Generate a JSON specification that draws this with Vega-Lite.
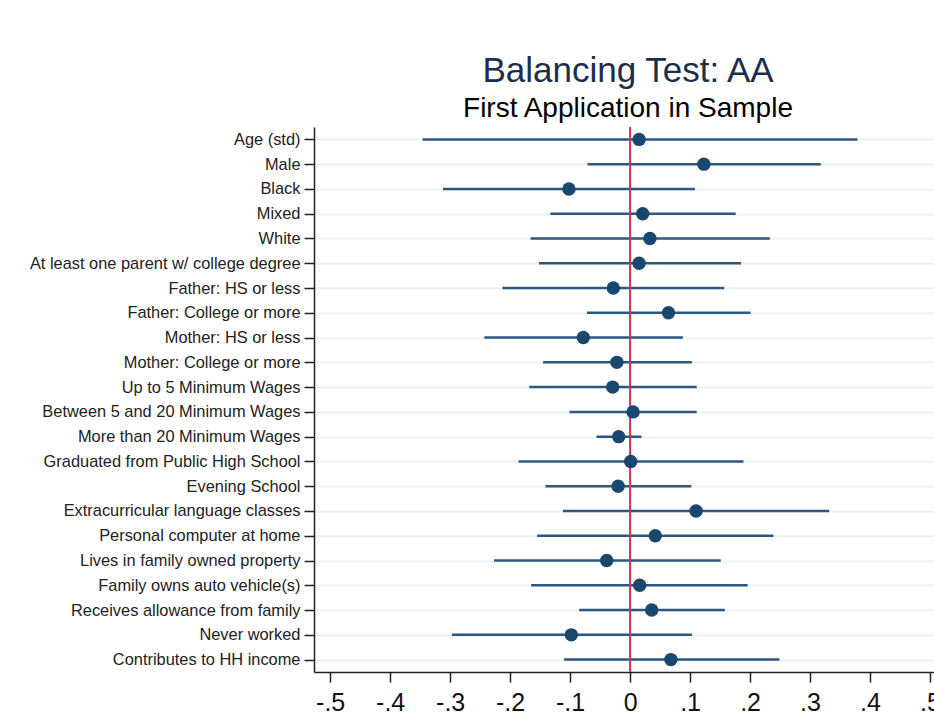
{
  "$schema": "https://vega.github.io/schema/vega-lite/v6.json",
  "autosize": "none",
  "padding": {"left": 314, "top": 127, "right": 0, "bottom": 44},
  "width": 640,
  "height": 545,
  "background": "white",
  "config": {"view": {"stroke": null}, "font": "Liberation Sans"},
  "title": {
    "text": "Balancing Test: AA",
    "subtitle": "First Application in Sample",
    "anchor": "middle",
    "frame": "group",
    "font": "Liberation Sans",
    "fontSize": 35,
    "fontWeight": "normal",
    "color": "#1c2e4a",
    "subtitleFont": "Liberation Sans",
    "subtitleFontSize": 28,
    "subtitleColor": "#000000",
    "subtitlePadding": 6,
    "offset": 3,
    "dx": -6
  },
  "data": {
    "values": [
      {"var": "Age (std)", "est": 0.015, "lo": -0.346, "hi": 0.379},
      {"var": "Male", "est": 0.123, "lo": -0.071, "hi": 0.318},
      {"var": "Black", "est": -0.102, "lo": -0.312, "hi": 0.108},
      {"var": "Mixed", "est": 0.021, "lo": -0.133, "hi": 0.176},
      {"var": "White", "est": 0.033, "lo": -0.166, "hi": 0.233},
      {"var": "At least one parent w/ college degree", "est": 0.015, "lo": -0.152, "hi": 0.185},
      {"var": "Father: HS or less", "est": -0.028, "lo": -0.213, "hi": 0.157},
      {"var": "Father: College or more", "est": 0.064, "lo": -0.072, "hi": 0.201},
      {"var": "Mother: HS or less", "est": -0.078, "lo": -0.243, "hi": 0.088},
      {"var": "Mother: College or more", "est": -0.022, "lo": -0.145, "hi": 0.103},
      {"var": "Up to 5 Minimum Wages", "est": -0.029, "lo": -0.168, "hi": 0.111},
      {"var": "Between 5 and 20 Minimum Wages", "est": 0.005, "lo": -0.101, "hi": 0.111},
      {"var": "More than 20 Minimum Wages", "est": -0.019, "lo": -0.056, "hi": 0.019},
      {"var": "Graduated from Public High School", "est": 0.001, "lo": -0.186, "hi": 0.189},
      {"var": "Evening School", "est": -0.020, "lo": -0.141, "hi": 0.102},
      {"var": "Extracurricular language classes", "est": 0.110, "lo": -0.112, "hi": 0.332},
      {"var": "Personal computer at home", "est": 0.042, "lo": -0.155, "hi": 0.239},
      {"var": "Lives in family owned property", "est": -0.039, "lo": -0.227, "hi": 0.151},
      {"var": "Family owns auto vehicle(s)", "est": 0.016, "lo": -0.165, "hi": 0.196},
      {"var": "Receives allowance from family", "est": 0.036, "lo": -0.085, "hi": 0.158},
      {"var": "Never worked", "est": -0.098, "lo": -0.297, "hi": 0.103},
      {"var": "Contributes to HH income", "est": 0.068, "lo": -0.110, "hi": 0.249}
    ]
  },
  "encoding": {
    "y": {
      "field": "var",
      "type": "nominal",
      "sort": null,
      "title": null,
      "scale": {"type": "point", "padding": 0.5},
      "axis": {
        "labelFont": "Liberation Sans",
        "labelFontSize": 16.4,
        "labelLimit": 0,
        "labelColor": "#222222",
        "labelPadding": 4,
        "tickSize": 10,
        "tickColor": "#222222",
        "tickWidth": 1.5,
        "domainColor": "#222222",
        "domainWidth": 1.5,
        "grid": true,
        "gridColor": "#ebf2f4",
        "gridWidth": 2
      }
    }
  },
  "layer": [
    {
      "mark": {"type": "rule", "strokeWidth": 2.5, "color": "#2c5880"},
      "encoding": {
        "x": {
          "field": "lo",
          "type": "quantitative",
          "scale": {"domain": [-0.527, 0.54], "nice": false, "zero": false},
          "title": null,
          "axis": {
            "values": [-0.5, -0.4, -0.3, -0.2, -0.1, 0, 0.1, 0.2, 0.3, 0.4, 0.5],
            "labelExpr": "datum.value == 0 ? '0' : (datum.value < 0 ? '-' : '') + '.' + round(abs(datum.value) * 10)",
            "labelFont": "Liberation Sans",
            "labelFontSize": 25,
            "labelColor": "#111111",
            "labelPadding": 8,
            "tickSize": 10,
            "tickWidth": 1.5,
            "tickColor": "#222222",
            "domainColor": "#222222",
            "domainWidth": 1.5,
            "grid": false
          }
        },
        "x2": {"field": "hi"}
      }
    },
    {
      "data": {"values": [{"ref": 0}]},
      "mark": {"type": "rule", "strokeWidth": 2, "color": "#d52f50"},
      "encoding": {
        "x": {"field": "ref", "type": "quantitative"},
        "y": null
      }
    },
    {
      "mark": {"type": "point", "filled": true, "opacity": 1, "size": 180, "color": "#1a476f"},
      "encoding": {
        "x": {"field": "est", "type": "quantitative"}
      }
    }
  ]
}
